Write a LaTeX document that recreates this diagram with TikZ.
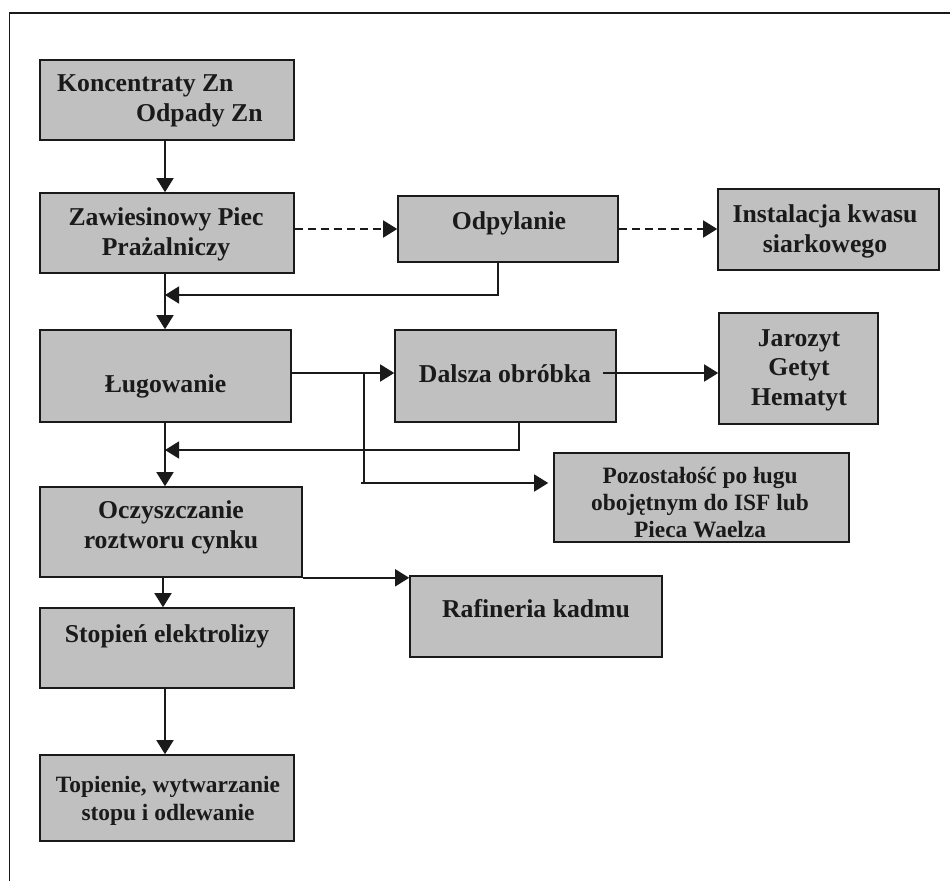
\documentclass[tikz,border=0pt]{standalone}
\usepackage{fontspec}
\setmainfont{Liberation Serif}
\usetikzlibrary{arrows.meta,calc}
\definecolor{boxgray}{HTML}{C0C0C0}
\definecolor{ink}{HTML}{1A1A1A}
\begin{document}
\begin{tikzpicture}[x=1pt,y=-1pt,
  box/.style={draw=ink,fill=boxgray,line width=1.6pt,inner sep=0pt,rectangle},
  txt/.style={inner sep=0pt,anchor=base,align=center,text=ink,
    font=\fontsize{25.7}{29.5}\selectfont\bfseries},
  smalltxt/.style={txt,font=\fontsize{23.4}{27}\selectfont\bfseries},
  flow/.style={draw=ink,line width=1.5pt,-{Triangle[length=14pt,width=17pt]}},
  plain/.style={draw=ink,line width=1.5pt},
  dashflow/.style={flow,dash pattern=on 8pt off 5pt}]
\useasboundingbox (0,0) rectangle (950,881);

% frame
\draw[ink,line width=1.8pt] (9.5,881) -- (9.5,13) -- (950,13);

% process boxes
\node[box,minimum width=254pt,minimum height=80pt] (konc) at (167,100) {};
\node[box,minimum width=254pt,minimum height=80pt] (zaw)  at (167,233) {};
\node[box,minimum width=220pt,minimum height=66pt] (odp)  at (508,229) {};
\node[box,minimum width=221pt,minimum height=81pt] (inst) at (828.5,229.5) {};
\node[box,minimum width=251pt,minimum height=92pt] (lug)  at (165.5,376) {};
\node[box,minimum width=221pt,minimum height=92pt] (dal)  at (505.5,376) {};
\node[box,minimum width=159pt,minimum height=111pt] (jar) at (798.5,368.5) {};
\node[box,minimum width=295pt,minimum height=89pt] (poz)  at (701.5,497.5) {};
\node[box,minimum width=262pt,minimum height=90pt] (ocz)  at (171,532) {};
\node[box,minimum width=252pt,minimum height=81pt] (raf)  at (536,616.5) {};
\node[box,minimum width=254pt,minimum height=80pt] (sto)  at (167,648) {};
\node[box,minimum width=254pt,minimum height=86pt] (top)  at (167,798) {};

% box texts (base anchor = baseline of the last line)
\node[txt,anchor=base west,align=left] (koncT) at (57,121)
  {Koncentraty Zn\\\hspace*{79pt}Odpady Zn};
\node[txt] (zawT)  at (166,255) {Zawiesinowy Piec\\Prażalniczy};
\node[txt] (odpT)  at (509,229) {Odpylanie};
\node[txt] (instT) at (825,252) {Instalacja kwasu\\siarkowego};
\node[txt] (lugT)  at (165.5,392) {Ługowanie};
\node[txt] (dalT)  at (505,382) {Dalsza obróbka};
\node[txt] (jarT)  at (799,405) {Jarozyt\\Getyt\\Hematyt};
\node[smalltxt] (pozT) at (700,537) {Pozostałość po ługu\\obojętnym do ISF lub\\Pieca Waelza};
\node[txt] (oczT)  at (171,548) {Oczyszczanie\\roztworu cynku};
\node[txt] (rafT)  at (536,617) {Rafineria kadmu};
\node[txt] (stoT)  at (167,642) {Stopień elektrolizy};
\node[smalltxt,font=\fontsize{23.4}{28}\selectfont\bfseries] (topT) at (168,820)
  {Topienie, wytwarzanie\\stopu i odlewanie};

% routing helpers
\coordinate (spine) at (165,0);
\coordinate (j1) at (165,295);
\coordinate (j2) at (165,450);
\coordinate (r2) at (0,373);
\coordinate (br) at (364,373);
\coordinate (br2) at (364,483);

% main line
\draw[flow] (konc.south -| spine) -- (zaw.north -| spine);
\draw[flow] (zaw.south -| spine) -- (lug.north -| spine);
\draw[flow] (lug.south -| spine) -- (ocz.north -| spine);
\draw[flow] ($(ocz.south -| spine)+(-2,0)$) -- ($(sto.north -| spine)+(-2,0)$);
\draw[flow] (sto.south -| spine) -- (top.north -| spine);

% gas line
\draw[dashflow] (zaw.east |- odp.west) -- (odp.west);
\draw[dashflow] (odp.east) -- (inst.west |- odp.east);
\draw[flow] ($(odp.south)+(-10,0)$) |- (j1);

% leaching branches
\draw[flow] (lug.east |- r2) -- (dal.west |- r2);
\draw[plain] (br) -- (br2);
\draw[flow,shorten >=5pt] ($(br2)+(-3,0)$) -- (poz.west |- br2);
\draw[flow] ($(dal.east |- r2)+(-14,0)$) -- (jar.west |- r2);
\draw[flow] ($(dal.south)+(13.5,0)$) |- (j2);

% cadmium
\draw[flow] (ocz.south east) -- (raf.north west |- ocz.south east);
\end{tikzpicture}
\end{document}
